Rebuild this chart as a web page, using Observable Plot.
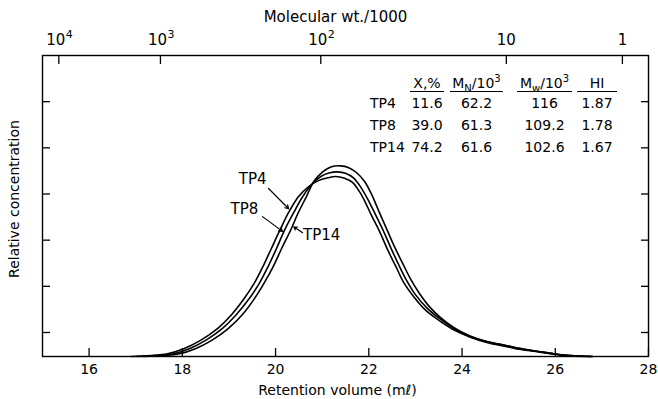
<!DOCTYPE html>
<html><head><meta charset="utf-8">
<script src="https://cdn.jsdelivr.net/npm/d3@7"></script>
<script src="https://cdn.jsdelivr.net/npm/@observablehq/plot@0.6"></script>
<style>
body{margin:0;background:#fff;}
#wrap{position:relative;width:658px;height:399px;font-family:"DejaVu Sans",sans-serif;color:#000;}
#wrap svg{display:block;}
.cell{position:absolute;font-size:14px;line-height:15px;white-space:nowrap;text-align:center;}
.hdr{border-bottom:1.3px solid #000;line-height:13px;padding-bottom:1px;}
.cell sub,.cell sup{font-size:10px;line-height:0;}
</style></head><body><div id="wrap"></div>
<script>
// ---- curve data: retention volume (ml) vs relative concentration ----
const tp4X = [16.89,17.32,17.68,18.03,18.39,18.76,19.06,19.33,19.55,19.74,19.91,20.09,20.28,20.49,20.71,20.92,21.12,21.29,
              21.48,21.65,21.80,21.93,22.06,22.23,22.40,22.58,22.75,22.96,23.20,23.48,23.82,24.16,24.55,24.94,25.26,25.64,25.97,26.33,26.80];
const tp4Y = [0,0.02,0.06,0.17,0.35,0.61,0.91,1.26,1.60,1.97,2.34,2.73,3.12,3.46,3.68,3.81,3.87,3.90,
              3.86,3.77,3.57,3.33,3.05,2.71,2.32,1.95,1.60,1.30,1.02,0.80,0.58,0.43,0.32,0.24,0.17,0.11,0.06,0.02,0];
const tp8X = [17.02,17.45,17.81,18.15,18.50,18.86,19.16,19.44,19.66,19.85,20.02,20.19,20.39,20.58,20.77,20.97,21.16,21.33,
              21.50,21.67,21.82,21.97,22.12,22.30,22.47,22.64,22.81,23.00,23.24,23.52,23.82,24.16,24.55,24.94,25.26,25.64,25.97,26.33,26.76];
const tp8Y = [0,0.02,0.06,0.17,0.35,0.61,0.91,1.26,1.60,1.97,2.34,2.73,3.12,3.46,3.72,3.90,3.98,4.00,
              3.97,3.87,3.68,3.42,3.12,2.75,2.36,1.99,1.65,1.34,1.06,0.82,0.61,0.43,0.30,0.22,0.15,0.10,0.05,0.01,0];
const tp14X = [17.15,17.58,17.94,18.28,18.63,18.99,19.29,19.55,19.76,19.96,20.13,20.32,20.49,20.67,20.82,21.01,21.20,21.39,
               21.57,21.74,21.91,22.06,22.21,22.38,22.55,22.73,22.90,23.09,23.30,23.54,23.82,24.16,24.55,24.94,25.26,25.64,25.97,26.33,26.80];
const tp14Y = [0,0.02,0.06,0.17,0.35,0.61,0.91,1.26,1.60,1.97,2.34,2.73,3.12,3.48,3.79,4.00,4.11,4.13,
               4.09,3.98,3.79,3.51,3.16,2.77,2.38,2.01,1.67,1.36,1.08,0.84,0.63,0.45,0.32,0.24,0.17,0.11,0.06,0.02,0];

// ---- axes ----
const xTicks = [16,18,20,22,24,26,28];
const yTicks = [0.52,1.52,2.52,3.52,4.52,5.52];
const mwTickPos = [15.35,17.53,20.97,24.95,27.44];
const mwTickBase = ["10","10","10","10","1"];
const mwTickExp = ["4","3","2","",""];

// ---- curve annotations ----
const curveLabels = ["TP4","TP8","TP14"];
const curveLabelX = [19.51,19.33,20.99];
const curveLabelY = [3.85,3.20,2.62];
const arrowX1 = [19.85,19.72,20.58];
const arrowY1 = [3.64,3.03,2.68];
const arrowX2 = [20.28,20.15,20.39];
const arrowY2 = [3.20,2.71,2.81];

// ---- inset table ----
const tableHeaders = ["X,%","M<sub>N</sub>/10<sup>3</sup>","M<sub>w</sub>/10<sup>3</sup>","HI"];
const tableRows = ["TP4","TP8","TP14"];
const convPct = ["11.6","39.0","74.2"];
const mnVals = ["62.2","61.3","61.6"];
const mwVals = ["116","109.2","102.6"];
const hiVals = ["1.87","1.78","1.67"];

const curves = [];
[["TP4", tp4X, tp4Y], ["TP8", tp8X, tp8Y], ["TP14", tp14X, tp14Y]].forEach(([s, xs, ys]) => {
  xs.forEach((x, i) => curves.push({series: s, v: x, c: ys[i]}));
});
const labelData = curveLabels.map((t, i) => ({t, x: curveLabelX[i], y: curveLabelY[i], x1: arrowX1[i], y1: arrowY1[i], x2: arrowX2[i], y2: arrowY2[i]}));
const mwData = mwTickPos.map((p, i) => ({p, base: mwTickBase[i], exp: mwTickExp[i]}));
const mwWithExp = mwData.filter(d => d.exp !== "");
const mwNoExp = mwData.filter(d => d.exp === "");

const chart = Plot.plot({
  width: 658, height: 399,
  marginLeft: 42, marginRight: 10, marginTop: 55, marginBottom: 43,
  x: {domain: [15, 28]},
  y: {domain: [0, 6.52]},
  style: {fontFamily: "DejaVu Sans, sans-serif", fontSize: "15px", color: "black", background: "white"},
  marks: [
    Plot.frame({stroke: "black", strokeWidth: 1.4}),
    Plot.axisX({anchor: "bottom", ticks: xTicks, tickSize: -8, tickPadding: 16, tickFormat: d => String(d), label: null, fontSize: 14, strokeWidth: 1.3}),
    Plot.axisX(mwTickPos, {anchor: "top", tickSize: -8, tickFormat: () => "", label: null, strokeWidth: 1.3}),
    Plot.text(mwWithExp, {x: "p", text: "base", frameAnchor: "top", lineAnchor: "middle", dy: -15, dx: -3, fontSize: 15, fill: "black"}),
    Plot.text(mwWithExp, {x: "p", text: "exp", frameAnchor: "top", lineAnchor: "middle", dy: -21, dx: 7, textAnchor: "start", fontSize: 11, fill: "black"}),
    Plot.text(mwNoExp, {x: "p", text: "base", frameAnchor: "top", lineAnchor: "middle", dy: -15, fontSize: 15, fill: "black"}),
    Plot.axisY({anchor: "left", ticks: yTicks, tickSize: -8, tickFormat: () => "", label: null, strokeWidth: 1.3}),
    Plot.axisY({anchor: "right", ticks: yTicks, tickSize: -8, tickFormat: () => "", label: null, strokeWidth: 1.3}),
    Plot.line(curves, {x: "v", y: "c", z: "series", curve: "catmull-rom", stroke: "black", strokeWidth: 1.6}),
    Plot.arrow(labelData, {x1: "x1", y1: "y1", x2: "x2", y2: "y2", stroke: "black", strokeWidth: 1.2, headLength: 5}),
    Plot.text(labelData, {x: "x", y: "y", text: "t", fontSize: 15, fill: "black"}),
    Plot.text(["Retention volume (mℓ)"], {frameAnchor: "bottom", lineAnchor: "middle", dy: 34, dx: -8, fontSize: 14, fill: "black"}),
    Plot.text(["Relative concentration"], {frameAnchor: "left", textAnchor: "middle", lineAnchor: "middle", dx: -28, dy: -7, rotate: -90, fontSize: 14, fill: "black"}),
    Plot.text(["Molecular wt./1000"], {frameAnchor: "top", lineAnchor: "middle", dy: -38, dx: -10, fontSize: 15, fill: "black"})
  ]
});
const wrap = document.getElementById("wrap");
wrap.appendChild(chart);

// inset table as positioned text
const cols = [{left: 370, w: 42, align: "left"}, {left: 410, w: 34}, {left: 450, w: 53}, {left: 517, w: 55}, {left: 577, w: 40}];
function cell(html, col, top, cls) {
  const d = document.createElement("div");
  d.className = "cell" + (cls ? " " + cls : "");
  d.innerHTML = html;
  d.style.left = col.left + "px";
  d.style.width = col.w + "px";
  d.style.top = top + "px";
  if (col.align) d.style.textAlign = col.align;
  wrap.appendChild(d);
}
tableHeaders.forEach((h, j) => cell(h, cols[j + 1], 77, "hdr"));
const rowTops = [96, 118, 140];
tableRows.forEach((r, i) => {
  cell(r, cols[0], rowTops[i]);
  cell(convPct[i], cols[1], rowTops[i]);
  cell(mnVals[i], cols[2], rowTops[i]);
  cell(mwVals[i], cols[3], rowTops[i]);
  cell(hiVals[i], cols[4], rowTops[i]);
});
</script></body></html>
